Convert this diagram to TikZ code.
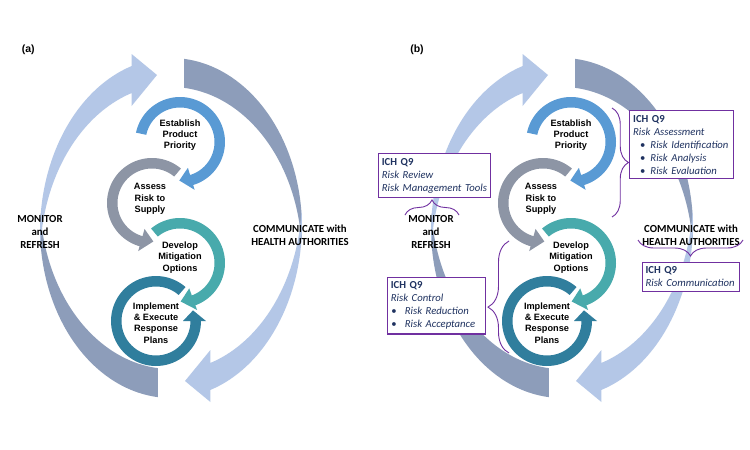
\documentclass[tikz,border=0pt]{standalone}
\usepackage{fontspec}
\setmainfont{Liberation Sans}
\newfontfamily\calfont{Carlito}
\usetikzlibrary{decorations.pathreplacing}
\definecolor{lightarc}{RGB}{180,199,231}
\definecolor{darkarc}{RGB}{141,157,186}
\definecolor{blueA}{RGB}{89,154,212}
\definecolor{greyA}{RGB}{141,149,165}
\definecolor{tealA}{RGB}{72,170,172}
\definecolor{dteal}{RGB}{48,126,157}
\definecolor{qpurple}{RGB}{112,48,160}
\definecolor{qnavy}{RGB}{31,50,96}

% circular inner arrow: cx cy start base tip colour
\newcommand\ringarrow[6]{%
  \begin{scope}[shift={(#1,#2)}]
    \fill[#6] plot[variable=\t,domain=#3:#4,samples=70] ({45*cos(\t)},{45*sin(\t)})
      -- ({50*cos(#4)},{50*sin(#4)}) -- ({38.5*cos(#5)},{38.5*sin(#5)})
      -- ({27*cos(#4)},{27*sin(#4)})
      -- plot[variable=\t,domain=#4:#3,samples=70] ({34.5*cos(\t)},{34.5*sin(\t)}) -- cycle;
  \end{scope}}

\newcommand\outerring{%
  \foreach \r in {0,180}{%
    \begin{scope}[shift={(171,228)},rotate=\r]
      \fill[darkarc] plot[variable=\t,domain=275.7:364.9,samples=60] ({131*cos(\t)},{170*sin(\t)})
        -- plot[variable=\t,domain=355.1:275.7,samples=60] ({131*cos(\t)},{29+170*sin(\t)}) -- cycle;
    \end{scope}}%
  \foreach \r in {0,180}{%
    \begin{scope}[shift={(171,228)},rotate=\r]
      \fill[lightarc] plot[variable=\t,domain=175.55:252.5,samples=60] ({131*cos(\t)},{4+174*sin(\t)})
        -- (-39.4,-174) -- (-14,-153) -- (-39.4,-122)
        -- plot[variable=\t,domain=252.5:184.45,samples=60] ({131*cos(\t)},{31+174*sin(\t)}) -- cycle;
    \end{scope}}%
}

\newcommand\qitem[3]{\mbox{\hspace*{#1}\makebox[#2][l]{\textbullet}\textit{#3}}}

\tikzset{
  inlbl/.style={font=\fontsize{9.2}{11.3}\selectfont\bfseries, align=center, inner sep=0pt},
  outlbl/.style={font=\calfont\fontsize{10.8}{13}\selectfont\bfseries, align=center, inner sep=0pt},
  panlbl/.style={font=\fontsize{10.5}{12}\selectfont\bfseries, inner sep=0pt},
  qbox/.style={draw=qpurple, line width=1.1pt, fill=white, anchor=north west,
    inner xsep=3.3pt, inner ysep=4.5pt, align=left, text=qnavy,
    font=\calfont\fontsize{10.7}{13}\selectfont},
  qbrace/.style={draw=qpurple, line width=0.9pt, decorate, decoration={brace, amplitude=#1}},
  panel/.pic={
    \outerring
    \ringarrow{156}{321}{311}{0}{-16}{dteal}
    \ringarrow{180}{263}{230}{430}{449}{tealA}
    \ringarrow{152}{203}{310}{106}{88}{greyA}
    \ringarrow{180}{142}{192}{433}{451}{blueA}
    \node[inlbl] (-est) at (180,135) {Establish\\Product\\Priority};
    \node[inlbl] (-ass) at (150,199) {Assess\\Risk to\\Supply};
    \node[inlbl] (-dev) at (180,257.5) {Develop\\Mitigation\\Options};
    \node[inlbl] (-imp) at (156,323) {Implement\\\& Execute\\Response\\Plans};
    \node[outlbl] (-mon) at (40,232) {MONITOR\\and\\REFRESH};
    \node[outlbl] (-com) at (300,235.5) {COMMUNICATE with\\HEALTH AUTHORITIES};
  }
}

\begin{document}
\begin{tikzpicture}[x=1pt,y=-1pt]
  \useasboundingbox (0,0) rectangle (750,450);
  \fill[white] (0,0) rectangle (750,450);
  \node[panlbl] (la) at (28.3,50) {(a)};
  \node[panlbl] (lb) at (417,50) {(b)};
  \pic (pa) at (0,0) {panel};
  \pic (pb) at (391,0) {panel};

  % ICH Q9 boxes of panel (b)
  \node[qbox, text width=97pt] (q1) at (629.3,110) {\textbf{ICH Q9}\\\textit{Risk Assessment}\\
    \qitem{7pt}{10.3pt}{Risk Identification}\\\qitem{7pt}{10.3pt}{Risk Analysis}\\\qitem{7pt}{10.3pt}{Risk Evaluation}};
  \node[qbox, text width=105.7pt] (q2) at (378,153.3) {\textbf{ICH Q9}\\\textit{Risk Review}\\\mbox{\textit{Risk Management Tools}}};
  \node[qbox, text width=91.1pt] (q3) at (387,276.7) {\textbf{ICH Q9}\\\textit{Risk Control}\\
    \qitem{0.5pt}{13.5pt}{Risk Reduction}\\\qitem{0.5pt}{13.5pt}{Risk Acceptance}};
  \node[qbox, text width=90.7pt] (q4) at (641.7,261.7) {\textbf{ICH Q9}\\\mbox{\textit{Risk Communication}}};

  % braces
  \coordinate (b1s) at (612,108);   \coordinate (b1e) at (612,217);
  \coordinate (b2s) at (405,215);   \coordinate (b2e) at (459,215);
  \coordinate (b3s) at (509,353);   \coordinate (b3e) at (509,241);
  \coordinate (b4s) at (743,240);   \coordinate (b4e) at (638,240);
  \draw[qbrace=16.5pt] (b1s) -- (b1e);
  \draw[qbrace=15pt] (b2s) -- (b2e);
  \draw[qbrace=21pt, decoration={aspect=0.41}] (b3s) -- (b3e);
  \draw[qbrace=16pt] (b4s) -- (b4e);
\end{tikzpicture}
\end{document}
